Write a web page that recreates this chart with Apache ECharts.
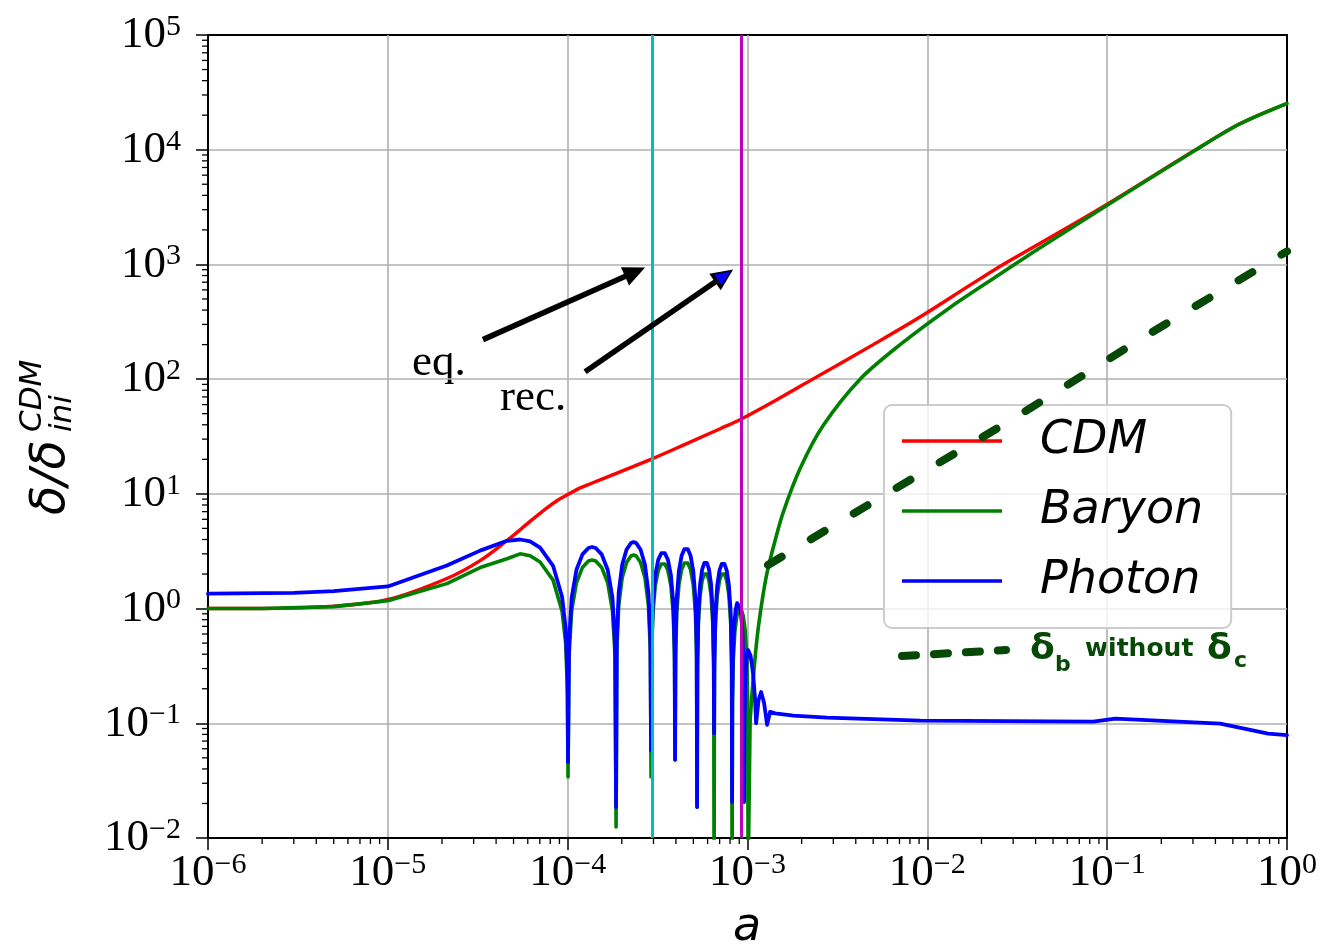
<!DOCTYPE html>
<html>
<head>
<meta charset="utf-8">
<title>delta / delta_ini</title>
<script src="https://cdn.jsdelivr.net/npm/echarts@6/dist/echarts.min.js"></script>
<style>
    html, body { margin: 0; padding: 0; background: #fff; }
    #chart { width: 1320px; height: 951px; }
</style>
</head>
<body>
<div id="chart"></div>
<script>
// ---- data ----
// x values are stored as log10(a), y values as delta/delta_ini

var cdmLgA = [-6, -5.699, -5.301, -5, -4.6716, -4.4868, -4.3372, -4.209, -4.1152, -4.0555, -4, -3.9393, -3.8601,
    -3.5272, -3.3468, -3.1518, -3.0339, -2.7959, -2.6421, -2.301, -2.041, -1.7496, -1.5784, -1.3726, -1, -0.4989, -0.2596, 0]
var cdmV = [1.0, 1.0, 1.05, 1.2, 1.83, 2.62, 3.92, 5.75, 7.55, 8.8, 9.85, 11.1, 12.5,
    20.3, 27, 37, 45, 72, 99, 200, 348, 680, 1000, 1530, 3350, 10180, 16900, 25300]

// baryon, acoustic part
var baryonLgA = [-6, -5.699, -5.301, -5, -4.6716, -4.4868, -4.3372, -4.2648, -4.2091, -4.1535, -4.0812, -4.0312, -4.0111, -4.0011, -3.998,
    -3.9925, -3.9778, -3.9511, -3.9177, -3.8843, -3.8643, -3.8443, -3.8109, -3.7775, -3.7509, -3.7362, -3.7308,
    -3.7269, -3.7162, -3.6968, -3.6724, -3.6481, -3.6335, -3.6189, -3.5946, -3.5702, -3.5508, -3.5401, -3.5362,
    -3.5335, -3.5262, -3.5128, -3.4961, -3.4794, -3.4694, -3.4594, -3.4427, -3.4261, -3.4127, -3.4054, -3.4027,
    -3.4002, -3.3935, -3.3813, -3.3660, -3.3507, -3.3415, -3.3323, -3.3170, -3.3017, -3.2895, -3.2828, -3.2803,
    -3.2784, -3.2732, -3.2638, -3.2520, -3.2401, -3.2331, -3.2260, -3.2141, -3.2023, -3.1929, -3.1877, -3.1858,
    -3.1838, -3.1783, -3.1683, -3.1557, -3.1432, -3.1357, -3.1282, -3.1157, -3.1032, -3.0932, -3.0877, -3.0857,
    -3.0839, -3.0790, -3.0701, -3.0590, -3.0479, -3.0412, -3.0345, -3.0234, -3.0123, -3.0034, -2.9985, -2.9967, -2.9855]
var baryonV = [1.0, 1.0, 1.04, 1.17, 1.65, 2.28, 2.72, 3.0, 2.89, 2.55, 1.77, 0.95, 0.5, 0.19, 0.034,
    0.382, 0.957, 1.680, 2.284, 2.597, 2.65, 2.597, 2.284, 1.680, 0.957, 0.382, 0.0125,
    0.422, 1.058, 1.858, 2.526, 2.871, 2.93, 2.871, 2.526, 1.858, 1.058, 0.422, 0.034,
    0.36, 0.903, 1.585, 2.155, 2.45, 2.5, 2.45, 2.155, 1.585, 0.903, 0.36, 0.048,
    0.367, 0.921, 1.617, 2.198, 2.499, 2.55, 2.499, 2.198, 1.617, 0.921, 0.367, 0.0186,
    0.294, 0.736, 1.293, 1.758, 1.999, 2.04, 1.999, 1.758, 1.293, 0.736, 0.294, 0.004,
    0.294, 0.736, 1.293, 1.758, 1.999, 2.04, 1.999, 1.758, 1.293, 0.736, 0.294, 0.004,
    0.144, 0.361, 0.634, 0.862, 0.98, 1.0, 0.98, 0.862, 0.634, 0.361, 0.144, 0.004, 0.106]
// baryon, growth after recombination
var baryonLateLgA = [-2.9855, -2.969, -2.9465, -2.9187, -2.8911, -2.8465, -2.8019, -2.7075, -2.5794, -2.3739,
    -2.1512, -1.8732, -1.595, -1.5157, -1.3726, -1, -0.4989, -0.2596, 0]
var baryonLateV = [0.106, 0.236, 0.56, 1.17, 2.06, 3.92, 6.87, 16.6, 39.4, 100,
    200, 422, 826, 1000, 1400, 3280, 10150, 16850, 25300]

var photonLgA = [-6, -5.5229, -5.301, -5, -4.6716, -4.4868, -4.3372, -4.2648, -4.2091, -4.1535, -4.0812, -4.0312, -4.0111, -4.0011, -3.998,
    -3.9925, -3.9778, -3.9511, -3.9177, -3.8843, -3.8643, -3.8443, -3.8109, -3.7775, -3.7509, -3.7362, -3.7308,
    -3.7269, -3.7162, -3.6968, -3.6724, -3.6481, -3.6335, -3.6189, -3.5946, -3.5702, -3.5508, -3.5401, -3.5362,
    -3.5335, -3.5262, -3.5128, -3.4961, -3.4794, -3.4694, -3.4594, -3.4427, -3.4261, -3.4127, -3.4054, -3.4027,
    -3.4002, -3.3935, -3.3813, -3.3660, -3.3507, -3.3415, -3.3323, -3.3170, -3.3017, -3.2895, -3.2828, -3.2803,
    -3.2784, -3.2732, -3.2638, -3.2520, -3.2401, -3.2331, -3.2260, -3.2141, -3.2023, -3.1929, -3.1877, -3.1858,
    -3.1838, -3.1783, -3.1683, -3.1557, -3.1432, -3.1357, -3.1282, -3.1157, -3.1032, -3.0932, -3.0877, -3.0857,
    -3.0843, -3.0807, -3.0740, -3.0657, -3.0573, -3.0523, -3.0473, -3.0390, -3.0306, -3.0239, -3.0203, -3.0189,
    -3.0172, -3.0122, -3.0056, -2.9967, -2.9833, -2.9689, -2.9577, -2.9522, -2.9383, -2.9244, -2.9077, -2.8911,
    -2.8743, -2.8465, -2.7447, -2.5575, -2.04, -1.0778, -0.9547, -0.3716, -0.1051, 0]
var photonV = [1.35, 1.37, 1.42, 1.56, 2.37, 3.2, 3.9, 4.0, 3.85, 3.4, 2.36, 1.27, 0.67, 0.26, 0.046,
    0.495, 1.242, 2.181, 2.965, 3.371, 3.44, 3.371, 2.965, 2.181, 1.242, 0.495, 0.0186,
    0.547, 1.372, 2.409, 3.276, 3.724, 3.8, 3.724, 3.276, 2.409, 1.372, 0.547, 0.058,
    0.446, 1.119, 1.965, 2.672, 3.038, 3.1, 3.038, 2.672, 1.965, 1.119, 0.446, 0.048,
    0.485, 1.217, 2.137, 2.905, 3.303, 3.37, 3.303, 2.905, 2.137, 1.217, 0.485, 0.0186,
    0.367, 0.921, 1.617, 2.198, 2.499, 2.55, 2.499, 2.198, 1.617, 0.921, 0.367, 0.082,
    0.36, 0.903, 1.585, 2.155, 2.45, 2.5, 2.45, 2.155, 1.585, 0.903, 0.36, 0.0206,
    0.164, 0.412, 0.723, 0.983, 1.117, 1.14, 1.117, 0.983, 0.723, 0.412, 0.164, 0.0206,
    0.1, 0.25, 0.36, 0.435, 0.39, 0.27, 0.16, 0.1, 0.16, 0.1875, 0.15, 0.097,
    0.126, 0.122, 0.1168, 0.112, 0.1056, 0.1035, 0.1099, 0.0994, 0.0813, 0.079]

// hand drawn dashed line: delta_b without delta_c
var handLgA = [-2.8861, -2.2218, -1.5229, -0.8013, 0]
var handV = [2.4, 10.1, 45, 230, 1300]

// equality and recombination (log10 a)
var eqLgA = -3.5272
var recLgA = -3.0339
// arrows: [tail, head]
var eqArrow = [[-4.4711, 221], [-3.6253, 859]]
var recArrow = [[-3.9031, 116], [-3.1302, 797]]

var legendNames = ['CDM', 'Baryon', 'Photon']
var minorSteps = [2, 3, 4, 5, 6, 7, 8, 9]
var xDecades = [-6, -5, -4, -3, -2, -1]
var yDecades = [-2, -1, 0, 1, 2, 3, 4]

function pairs(lgA, v) {
    var out = []
    for (var i = 0; i < lgA.length; i++) out.push([Math.pow(10, lgA[i]), v[i]])
    return out
}
function pt(p) { return [Math.pow(10, p[0]), p[1]] }

var xMinor = []
xDecades.forEach(function (d) { minorSteps.forEach(function (m) { xMinor.push([m * Math.pow(10, d), 1e-2]) }) })
var yMinor = []
yDecades.forEach(function (d) { minorSteps.forEach(function (m) { yMinor.push([1e-6, m * Math.pow(10, d)]) }) })

var serif = '"Liberation Serif", "DejaVu Serif", serif'
var sans = '"DejaVu Sans", sans-serif'
var handColor = '#064806'

function powLabel(v) {
    var e = Math.round(Math.log10(v))
    return '{b|10}{s|' + (e < 0 ? '\u2212' + (-e) : e) + '}'
}
var labelRich = {
    b: { fontFamily: serif, fontSize: 45, color: '#000', lineHeight: 46, verticalAlign: 'bottom' },
    s: { fontFamily: serif, fontSize: 30, color: '#000', lineHeight: 26, verticalAlign: 'top' }
}

var myChart = echarts.init(document.getElementById('chart'))

option = {
    animation: false,
    backgroundColor: '#fff',
    grid: {
        left: 208, right: 33, top: 35, bottom: 113,
        show: true, borderColor: '#000', borderWidth: 2, backgroundColor: '#fff',
        containLabel: false, outerBoundsMode: 'none'
    },
    legend: {
        data: legendNames,
        orient: 'vertical',
        left: 884, top: 405,
        icon: 'rect', itemWidth: 100, itemHeight: 3.5, itemGap: 20,
        padding: [11, 28, 22, 18],
        backgroundColor: 'rgba(255,255,255,0.8)',
        borderColor: '#cccccc', borderWidth: 2, borderRadius: 8,
        selectedMode: false,
        textStyle: {
            fontFamily: sans, fontStyle: 'italic', fontSize: 46, color: '#000',
            lineHeight: 50, padding: [0, 0, 0, 33]
        }
    },
    xAxis: {
        type: 'log', logBase: 10, min: 1e-6, max: 1, interval: 1,
        axisLine: { lineStyle: { color: '#000', width: 2 } },
        axisTick: { show: true, length: 12, lineStyle: { color: '#000', width: 1.5 } },
        axisLabel: { formatter: powLabel, rich: labelRich, margin: 12, showMinLabel: true, showMaxLabel: true },
        splitLine: { show: true, showMinLine: false, showMaxLine: false, lineStyle: { color: '#b0b0b0', width: 1.6 } }
    },
    yAxis: {
        type: 'log', logBase: 10, min: 1e-2, max: 1e5, interval: 1,
        axisLine: { lineStyle: { color: '#000', width: 2 } },
        axisTick: { show: true, length: 12, lineStyle: { color: '#000', width: 1.5 } },
        axisLabel: { formatter: powLabel, rich: labelRich, margin: 27, showMinLabel: true, showMaxLabel: true },
        splitLine: { show: true, showMinLine: false, showMaxLine: false, lineStyle: { color: '#b0b0b0', width: 1.6 } }
    },
    graphic: [
        // y axis title, rotated
        {
            type: 'group', x: 52, y: 515, rotation: Math.PI / 2, silent: true,
            children: [
                { type: 'text', x: 0, y: 0, style: { text: 'δ/δ', font: 'italic 48px "DejaVu Sans"', fill: '#000', align: 'left', verticalAlign: 'middle' } },
                { type: 'text', x: 83, y: -19, style: { text: 'CDM', font: 'italic 31px "DejaVu Sans"', fill: '#000', align: 'left', verticalAlign: 'middle' } },
                { type: 'text', x: 83, y: 11, style: { text: 'ini', font: 'italic 31px "DejaVu Sans"', fill: '#000', align: 'left', verticalAlign: 'middle' } }
            ]
        },
        // x axis title
        { type: 'text', x: 747, y: 928, silent: true, style: { text: 'a', font: 'italic 46px "DejaVu Sans"', fill: '#000', align: 'center', verticalAlign: 'middle' } },
        // arrow captions
        { type: 'text', x: 412, y: 363, silent: true, style: { text: 'eq.', font: '45px "Liberation Serif"', fill: '#000', align: 'left', verticalAlign: 'middle' } },
        { type: 'text', x: 500, y: 398, silent: true, style: { text: 'rec.', font: '45px "Liberation Serif"', fill: '#000', align: 'left', verticalAlign: 'middle' } },
        // hand written key
        {
            type: 'line', silent: true,
            shape: { x1: 902, y1: 656, x2: 1006, y2: 650 },
            style: { stroke: handColor, lineWidth: 8, lineDash: [14, 18], lineCap: 'round' }
        },
        { type: 'text', x: 1030, y: 650, silent: true, style: { text: 'δ', font: 'bold 36px "DejaVu Sans"', fill: handColor, align: 'left', verticalAlign: 'middle' } },
        { type: 'text', x: 1055, y: 665, silent: true, style: { text: 'b', font: 'bold 22px "DejaVu Sans"', fill: handColor, align: 'left', verticalAlign: 'middle' } },
        { type: 'text', x: 1085, y: 649, silent: true, style: { text: 'without', font: 'bold 25px "DejaVu Sans"', fill: handColor, align: 'left', verticalAlign: 'middle' } },
        { type: 'text', x: 1207, y: 650, silent: true, style: { text: 'δ', font: 'bold 36px "DejaVu Sans"', fill: handColor, align: 'left', verticalAlign: 'middle' } },
        { type: 'text', x: 1234, y: 661, silent: true, style: { text: 'c', font: 'bold 22px "DejaVu Sans"', fill: handColor, align: 'left', verticalAlign: 'middle' } }
    ],
    series: [
        {
            name: 'CDM', type: 'line', data: pairs(cdmLgA, cdmV), symbol: 'none', smooth: 0.35,
            color: '#ff0000', lineStyle: { color: '#ff0000', width: 3.4 }, z: 2
        },
        {
            name: 'Baryon', type: 'line', data: pairs(baryonLgA, baryonV), symbol: 'none',
            color: '#008000', lineStyle: { color: '#008000', width: 3.6, join: 'round', cap: 'round' }, z: 3
        },
        {
            name: 'Baryon', type: 'line', data: pairs(baryonLateLgA, baryonLateV), symbol: 'none', smooth: 0.3,
            color: '#008000', lineStyle: { color: '#008000', width: 3.6, join: 'round', cap: 'round' }, z: 3
        },
        {
            name: 'Photon', type: 'line', data: pairs(photonLgA, photonV), symbol: 'none',
            color: '#0000ff', lineStyle: { color: '#0000ff', width: 3.8, join: 'round', cap: 'round' }, z: 4
        },
        {
            name: 'hand', type: 'line', data: pairs(handLgA, handV), symbol: 'none', silent: true,
            lineStyle: { color: handColor, width: 8, type: [16, 34], cap: 'round' }, z: 10
        },
        {
            name: 'marks', type: 'line', data: [], z: 6,
            markLine: {
                silent: true, animation: false, symbol: 'none',
                label: { show: false }, emphasis: { disabled: true },
                data: [
                    [
                        { coord: [Math.pow(10, eqLgA), 1e-2], lineStyle: { color: '#00bfbf', width: 3, type: 'solid' } },
                        { coord: [Math.pow(10, eqLgA), 1e5] }
                    ],
                    [
                        { coord: [Math.pow(10, recLgA), 1e-2], lineStyle: { color: '#bf00bf', width: 3, type: 'solid' } },
                        { coord: [Math.pow(10, recLgA), 1e5] }
                    ],
                    [
                        { coord: pt(eqArrow[0]), symbol: 'none', lineStyle: { color: '#000', width: 5.5, type: 'solid' } },
                        { coord: pt(eqArrow[1]), symbol: 'triangle', symbolSize: [20, 22] }
                    ],
                    [
                        { coord: pt(recArrow[0]), symbol: 'none', lineStyle: { color: '#000', width: 5.5, type: 'solid' } },
                        { coord: pt(recArrow[1]), symbol: 'triangle', symbolSize: [20, 22] }
                    ],
                    [
                        { coord: pt(recArrow[0]), symbol: 'none', lineStyle: { color: '#0000ff', width: 0, type: 'solid' } },
                        { coord: pt(recArrow[1]), symbol: 'triangle', symbolSize: [13, 15] }
                    ]
                ]
            }
        },
        {
            type: 'custom', data: xMinor, silent: true, clip: false, z: 9,
            renderItem: function (params, api) {
                var p = api.coord([api.value(0), api.value(1)])
                return { type: 'line', shape: { x1: p[0], y1: p[1], x2: p[0], y2: p[1] + 6 }, style: { stroke: '#000', lineWidth: 1.3 } }
            }
        },
        {
            type: 'custom', data: yMinor, silent: true, clip: false, z: 9,
            renderItem: function (params, api) {
                var p = api.coord([api.value(0), api.value(1)])
                return { type: 'line', shape: { x1: p[0] - 6, y1: p[1], x2: p[0], y2: p[1] }, style: { stroke: '#000', lineWidth: 1.3 } }
            }
        }
    ]
};

myChart.setOption(option);
window.addEventListener("resize", function () {
    myChart.resize();
});
</script>
</body>
</html>
